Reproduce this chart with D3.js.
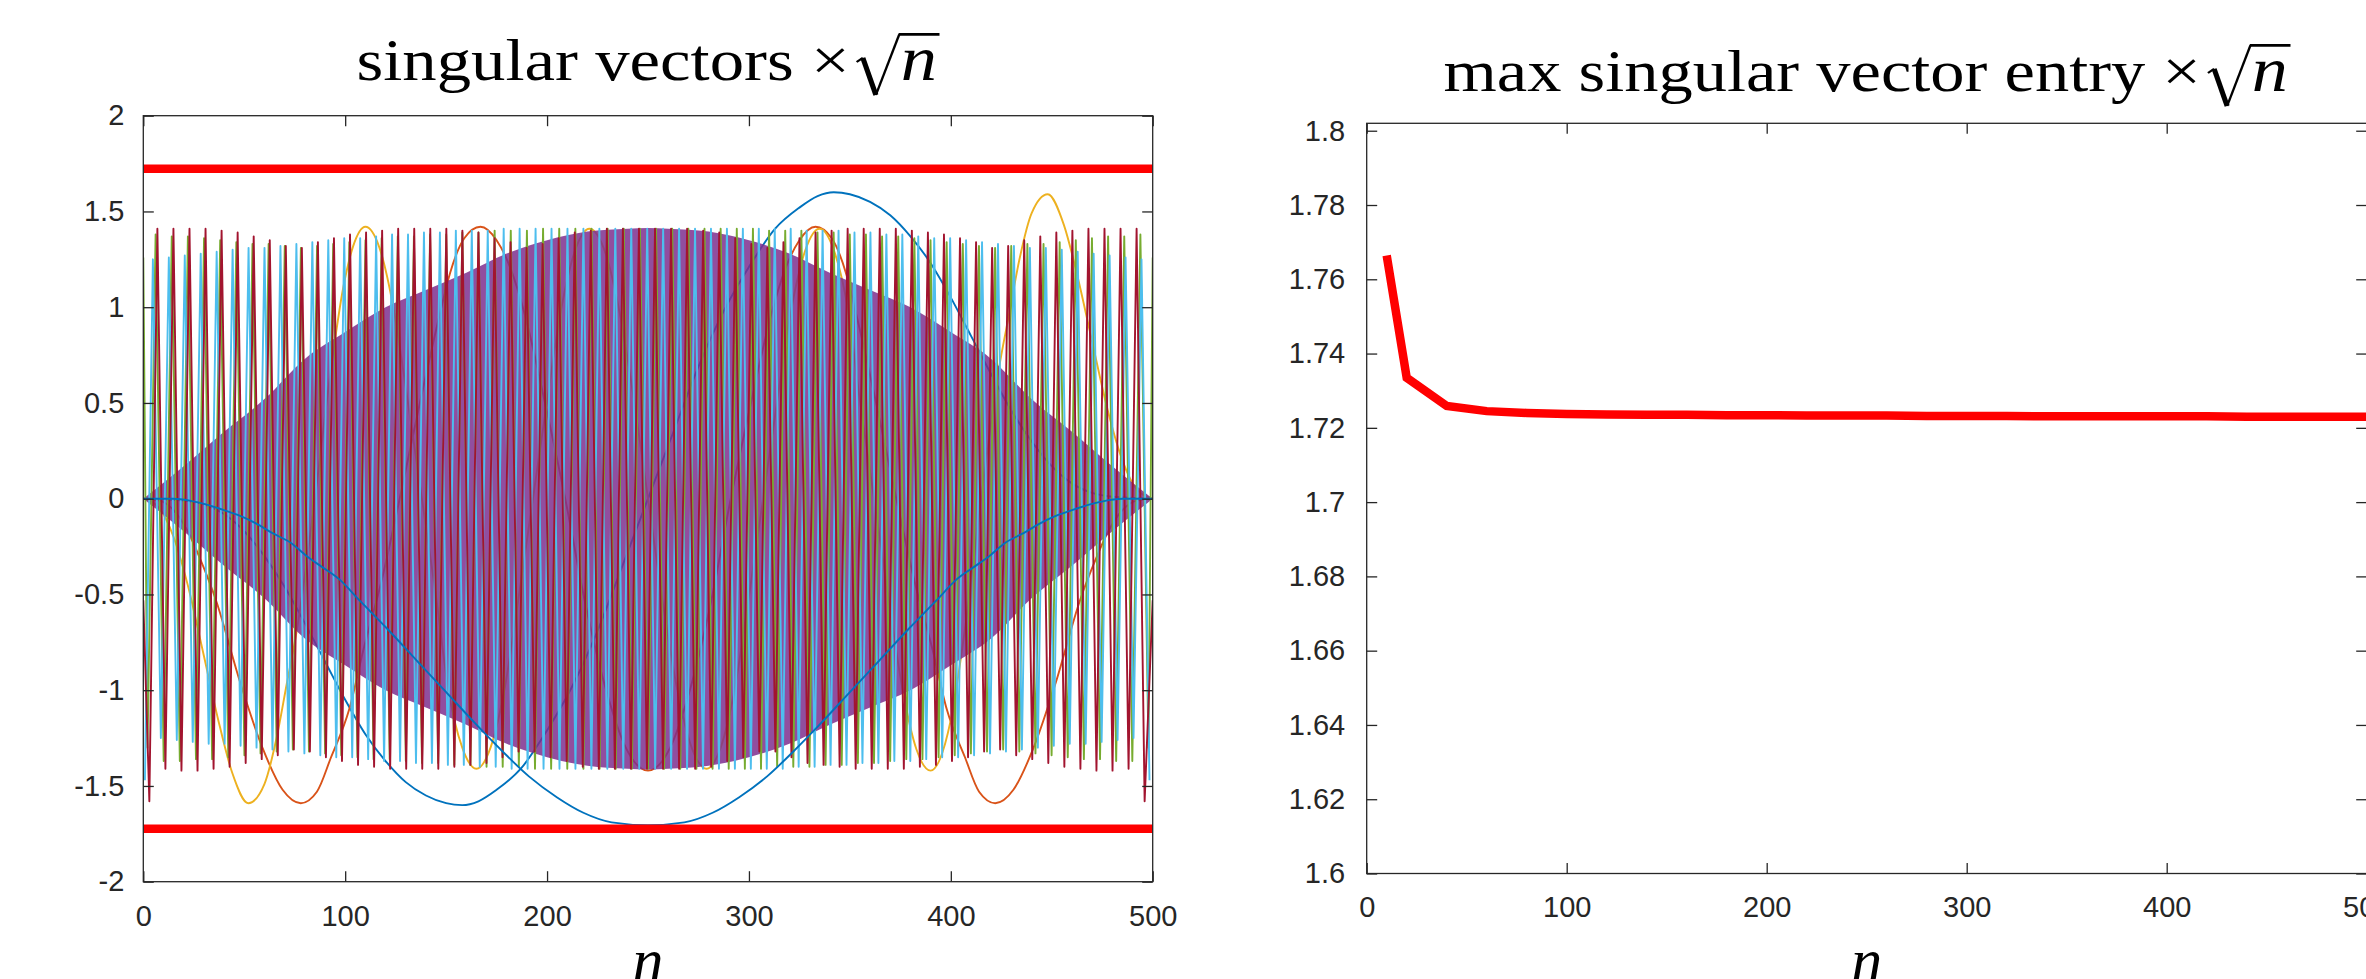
<!DOCTYPE html>
<html>
<head>
<meta charset="utf-8">
<script src="https://cdn.jsdelivr.net/npm/d3@7"></script>
<style>
    body { margin: 0; background: #fff; overflow: hidden; }
    svg { display: block; }
</style>
</head>
<body>
<div id="container"></div>
<script>
// ---------- data ----------
const xTicks = [0, 100, 200, 300, 400, 500];
const xTickLabels = ['0', '100', '200', '300', '400', '500'];
const leftYTicks = [-2, -1.5, -1, -0.5, 0, 0.5, 1, 1.5, 2];
const leftYTickLabels = ['-2', '-1.5', '-1', '-0.5', '0', '0.5', '1', '1.5', '2'];
const rightYTicks = [1.6, 1.62, 1.64, 1.66, 1.68, 1.7, 1.72, 1.74, 1.76, 1.78, 1.8];
const rightYTickLabels = ['1.6', '1.62', '1.64', '1.66', '1.68', '1.7', '1.72', '1.74', '1.76', '1.78', '1.8'];

// red bounds on the left plot
const bound = [1.723, -1.723];

// smooth singular vectors [n, value]
const blueA = [[0,0],[20,-0.01],[30,-0.03],[40,-0.08],[50,-0.17],[60,-0.30],[70,-0.46],[79,-0.63],[90,-0.85],[100,-1.05],
    [110,-1.23],[120,-1.37],[130,-1.48],[140,-1.55],[150,-1.59],[158,-1.60],[166,-1.58],[175,-1.52],[187,-1.41],[200,-1.21],
    [212,-0.99],[225,-0.69],[237,-0.36],[250,0],[263,0.36],[275,0.69],[288,0.99],[300,1.21],[313,1.41],[325,1.52],
    [334,1.58],[342,1.60],[350,1.59],[360,1.55],[370,1.48],[380,1.37],[390,1.23],[400,1.05],[410,0.85],[421,0.63],
    [430,0.46],[440,0.30],[450,0.17],[460,0.08],[470,0.03],[480,0.01],[500,0]];

const orange = [[0,0],[8,-0.01],[15,-0.06],[22,-0.17],[28,-0.31],[36,-0.53],[48,-0.96],[59,-1.30],[69,-1.52],[78,-1.59],
    [86,-1.53],[93,-1.35],[102,-1.10],[109,-0.79],[118,-0.43],[127,0],[137,0.50],[147,0.97],[152,1.18],[159,1.36],
    [167,1.42],[175,1.35],[182,1.20],[189,0.96],[199,0.50],[209,0],[219,-0.55],[229,-0.99],[239,-1.30],[250,-1.42],
    [261,-1.30],[271,-0.99],[281,-0.55],[291,0],[301,0.50],[311,0.96],[318,1.20],[325,1.35],[333,1.42],[341,1.36],
    [348,1.18],[353,0.97],[363,0.50],[373,0],[382,-0.43],[391,-0.79],[398,-1.10],[407,-1.35],[414,-1.53],[422,-1.59],
    [431,-1.52],[441,-1.30],[452,-0.96],[464,-0.53],[472,-0.31],[478,-0.17],[485,-0.06],[492,-0.01],[500,0]];

const yellow = [[0,0],[8,-0.05],[15,-0.20],[22,-0.45],[30,-0.82],[37,-1.15],[44,-1.43],[52,-1.59],[60,-1.49],[66,-1.25],
    [71,-0.97],[76,-0.69],[85,0],[93,0.68],[99,1.10],[104,1.32],[110,1.42],[117,1.31],[124,0.99],[131,0.51],
    [138,0],[145,-0.51],[151,-0.99],[158,-1.30],[165,-1.41],[172,-1.30],[179,-0.99],[186,-0.51],[193,0],[200,0.51],
    [207,0.99],[214,1.30],[221,1.41],[228,1.31],[236,0.97],[243,0.52],[250,0],[257,-0.52],[264,-0.97],[272,-1.31],
    [279,-1.41],[286,-1.30],[293,-0.99],[300,-0.51],[307,0],[314,0.51],[321,0.99],[328,1.30],[335,1.41],[342,1.30],
    [349,0.99],[355,0.51],[362,0],[369,-0.51],[376,-0.99],[383,-1.31],[390,-1.42],[396,-1.32],[401,-1.10],[407,-0.68],
    [415,0],[424,0.69],[429,0.97],[434,1.25],[440,1.49],[448,1.59],[456,1.43],[463,1.15],[470,0.82],[478,0.45],
    [485,0.20],[492,0.05],[500,0]];

const blueB = [[0,0],[15,0],[23,-0.01],[31,-0.03],[40,-0.06],[48,-0.09],[56,-0.13],[64,-0.18],[73,-0.23],[81,-0.30],
    [89,-0.36],[97,-0.42],[107,-0.53],[120,-0.67],[135,-0.84],[150,-1.01],[165,-1.18],[178,-1.32],[191,-1.45],[205,-1.56],
    [218,-1.64],[232,-1.69],[250,-1.705],[268,-1.69],[282,-1.64],[295,-1.56],[309,-1.45],[322,-1.32],[335,-1.18],[350,-1.01],
    [365,-0.84],[380,-0.67],[393,-0.53],[403,-0.42],[411,-0.36],[419,-0.30],[427,-0.23],[436,-0.18],[444,-0.13],[452,-0.09],
    [460,-0.06],[469,-0.03],[477,-0.01],[485,0],[500,0]];

// purple: alternates every sample, drawn as its envelope
const purpleN = [0, 20, 40, 60, 80, 100, 120, 140, 160, 180, 200, 220, 240, 250, 260, 280, 300, 320, 340, 360, 380, 400, 420, 440, 460, 480, 500];
const purpleUpper = [0, 0.17, 0.35, 0.52, 0.73, 0.87, 1.0, 1.09, 1.18, 1.28, 1.35, 1.395, 1.41, 1.414, 1.41, 1.395, 1.35, 1.28, 1.18, 1.09, 1.0, 0.87, 0.73, 0.52, 0.35, 0.17, 0];
const purpleLower = [0, -0.17, -0.35, -0.52, -0.73, -0.87, -1.0, -1.09, -1.18, -1.28, -1.35, -1.395, -1.41, -1.414, -1.41, -1.395, -1.35, -1.28, -1.18, -1.09, -1.0, -0.87, -0.73, -0.52, -0.35, -0.17, 0];

// high frequency vectors: successive turning points, evenly spaced over tipSpan
const greenSpan = [2.1, 497.9];
const greenEnds = [1.26, 1.26];
const greenTips = [
    -1.30, 1.38, -1.37, 1.37, -1.37, 1.37, -1.36, 1.36,
    -1.36, 1.35, -1.35, 1.34, -1.34, 1.33, -1.33, 1.33,
    -1.32, 1.32, -1.31, 1.31, -1.32, 1.32, -1.33, 1.33,
    -1.34, 1.34, -1.35, 1.35, -1.36, 1.36, -1.36, 1.37,
    -1.37, 1.37, -1.38, 1.38, -1.38, 1.38, -1.39, 1.39,
    -1.39, 1.39, -1.40, 1.40, -1.40, 1.40, -1.40, 1.40,
    -1.41, 1.41, -1.41, 1.41, -1.41, 1.41, -1.41, 1.41,
    -1.41, 1.41, -1.41, 1.41, -1.41, 1.41, -1.41,
    1.41, -1.41, 1.41, -1.41, 1.41, -1.41, 1.41, -1.41,
    1.41, -1.41, 1.41, -1.41, 1.41, -1.41, 1.40, -1.40,
    1.40, -1.40, 1.40, -1.40, 1.39, -1.39, 1.39, -1.39,
    1.38, -1.38, 1.38, -1.38, 1.37, -1.37, 1.37, -1.36,
    1.36, -1.36, 1.35, -1.35, 1.34, -1.34, 1.33, -1.33,
    1.32, -1.32, 1.31, -1.31, 1.32, -1.32, 1.33, -1.33,
    1.33, -1.34, 1.34, -1.35, 1.35, -1.36, 1.36, -1.36,
    1.37, -1.37, 1.37, -1.37, 1.38, -1.30];

const lightBlueSpan = [0.8, 498.4];
const lightBlueTips = [
    -1.47, 1.25, -1.25, 1.26, -1.26, 1.27, -1.27, 1.28,
    -1.28, 1.29, -1.28, 1.30, -1.29, 1.31, -1.30, 1.31,
    -1.31, 1.32, -1.32, 1.33, -1.33, 1.34, -1.34, 1.35,
    -1.35, 1.36, -1.35, 1.36, -1.36, 1.37, -1.37, 1.38,
    -1.37, 1.38, -1.38, 1.39, -1.38, 1.39, -1.39, 1.40,
    -1.39, 1.40, -1.40, 1.40, -1.40, 1.41, -1.41, 1.41,
    -1.41, 1.41, -1.41, 1.41, -1.41, 1.41, -1.41, 1.41,
    -1.41, 1.41, -1.41, 1.41, -1.41, 1.41, -1.41, 1.41,
    -1.41, 1.41, -1.41, 1.41, -1.41, 1.41, -1.41, 1.41,
    -1.41, 1.41, -1.41, 1.41, -1.41, 1.41, -1.41, 1.41,
    -1.41, 1.41, -1.40, 1.40, -1.40, 1.40, -1.39, 1.40,
    -1.39, 1.39, -1.38, 1.39, -1.38, 1.38, -1.37, 1.38,
    -1.37, 1.37, -1.36, 1.36, -1.35, 1.36, -1.35, 1.35,
    -1.34, 1.34, -1.33, 1.33, -1.32, 1.32, -1.31, 1.31,
    -1.30, 1.31, -1.29, 1.30, -1.28, 1.29, -1.28, 1.28,
    -1.27, 1.27, -1.26, 1.26, -1.25, 1.25, -1.47];

const darkRedSpan = [3.0, 496.0];
const darkRedEnds = [-0.53, -0.53];
const darkRedTips = [
    -1.58, 1.41, -1.41, 1.41, -1.42, 1.41, -1.42, 1.41,
    -1.41, 1.40, -1.40, 1.39, -1.38, 1.37, -1.36, 1.35,
    -1.34, 1.32, -1.31, 1.31, -1.32, 1.34, -1.35, 1.36,
    -1.37, 1.38, -1.39, 1.39, -1.40, 1.40, -1.41, 1.41,
    -1.41, 1.41, -1.41, 1.41, -1.41, 1.41, -1.40, 1.40,
    -1.39, 1.39, -1.38, 1.36, -1.35, 1.34, -1.32, 1.31,
    -1.32, 1.33, -1.35, 1.36, -1.37, 1.39, -1.40, 1.40,
    -1.41, 1.41, -1.41, 1.41, -1.41, 1.41, -1.41,
    1.41, -1.41, 1.41, -1.41, 1.41, -1.41, 1.40, -1.40,
    1.39, -1.37, 1.36, -1.35, 1.33, -1.32, 1.31, -1.32,
    1.34, -1.35, 1.36, -1.38, 1.39, -1.39, 1.40, -1.40,
    1.41, -1.41, 1.41, -1.41, 1.41, -1.41, 1.41, -1.41,
    1.40, -1.40, 1.39, -1.39, 1.38, -1.37, 1.36, -1.35,
    1.34, -1.32, 1.31, -1.31, 1.32, -1.34, 1.35, -1.36,
    1.37, -1.38, 1.39, -1.40, 1.40, -1.41, 1.41, -1.42,
    1.41, -1.42, 1.41, -1.41, 1.41, -1.58];

// right plot: max singular vector entry x sqrt(n)
const sizes = [10, 20, 40, 60, 80, 100, 120, 140, 160, 180, 200, 220, 240, 260, 280, 300, 320, 340, 360, 380, 400, 420, 440, 460, 480, 500];
const maxEntry = [1.7664, 1.7335, 1.7259, 1.7245, 1.7240, 1.7237, 1.7236, 1.7235, 1.7235, 1.7234, 1.7234, 1.7233, 1.7233,
    1.7233, 1.7232, 1.7232, 1.7232, 1.7231, 1.7231, 1.7231, 1.7231, 1.7231, 1.7230, 1.7230, 1.7230, 1.7230];

// ---------- drawing ----------
const W = 2366;
const H = 979;
const axisColor = '#262626';
const sans = 'Liberation Sans, Arial, Helvetica, sans-serif';
const serif = 'Liberation Serif, Times New Roman, serif';

const svg = d3.select('#container').append('svg')
    .attr('width', W)
    .attr('height', H)
    .style('width', W + 'px')
    .style('height', H + 'px');

const xL = d3.scaleLinear().domain([0, 500]).range([143.3, 1152.7]);
const yL = d3.scaleLinear().domain([-2, 2]).range([881.7, 115.7]);
const xR = d3.scaleLinear().domain([0, 500]).range([1366.7, 2366.7]);
const yR = d3.scaleLinear().domain([1.6, 1.802]).range([873.5, 123.3]);

function styleAxis(g) {
    g.select('.domain').remove();
    g.attr('font-size', 29).attr('font-family', sans);
    g.selectAll('line').attr('stroke', axisColor).attr('stroke-width', 1.3);
    g.selectAll('text').attr('fill', axisColor);
}

function drawAxes(x, y, yTicks, yLabels, yPad) {
    const [x0, x1] = x.range();
    const [yb, yt] = y.range();
    const tick = -10.5;

    svg.append('g').attr('transform', `translate(0,${yb})`)
        .call(d3.axisBottom(x).tickValues(xTicks).tickFormat((d, i) => xTickLabels[i])
            .tickSizeInner(tick).tickSizeOuter(0).tickPadding(23.4))
        .call(styleAxis);
    svg.append('g').attr('transform', `translate(0,${yt})`)
        .call(d3.axisTop(x).tickValues(xTicks).tickFormat(() => '')
            .tickSizeInner(tick).tickSizeOuter(0))
        .call(styleAxis);
    svg.append('g').attr('transform', `translate(${x0},0)`)
        .call(d3.axisLeft(y).tickValues(yTicks).tickFormat((d, i) => yLabels[i])
            .tickSizeInner(tick).tickSizeOuter(0).tickPadding(yPad))
        .call(styleAxis);
    svg.append('g').attr('transform', `translate(${x1},0)`)
        .call(d3.axisRight(y).tickValues(yTicks).tickFormat(() => '')
            .tickSizeInner(tick).tickSizeOuter(0))
        .call(styleAxis);

    svg.append('rect')
        .attr('x', x0).attr('y', yt)
        .attr('width', x1 - x0).attr('height', yb - yt)
        .attr('fill', 'none')
        .attr('stroke', axisColor)
        .attr('stroke-width', 1.3);
}

function clipFor(id, x, y) {
    const [x0, x1] = x.range();
    const [yb, yt] = y.range();
    svg.append('clipPath').attr('id', id)
        .append('rect').attr('x', x0).attr('y', yt).attr('width', x1 - x0).attr('height', yb - yt);
    return svg.append('g').attr('clip-path', `url(#${id})`);
}

function drawTitle(cx, baseline, label, width) {
    const F = 60;
    const g = svg.append('g');
    const main = g.append('text')
        .attr('font-family', serif)
        .attr('font-size', F)
        .attr('fill', '#000')
        .text(label + ' \u00D7');
    const w1 = main.node().getComputedTextLength();
    const r0 = w1 + 0.1 * F;
    g.append('path')
        .attr('d', `M${r0},${-0.3 * F} L${r0 + 0.09 * F},${-0.37 * F}`)
        .attr('stroke', '#000').attr('stroke-width', 0.035 * F).attr('fill', 'none');
    g.append('path')
        .attr('d', `M${r0 + 0.09 * F},${-0.37 * F} L${r0 + 0.28 * F},${0.25 * F}`)
        .attr('stroke', '#000').attr('stroke-width', 0.075 * F).attr('fill', 'none');
    g.append('path')
        .attr('d', `M${r0 + 0.28 * F},${0.25 * F} L${r0 + 0.62 * F},${-0.76 * F}`)
        .attr('stroke', '#000').attr('stroke-width', 0.035 * F).attr('fill', 'none');
    const nx = r0 + 0.64 * F;
    const nt = g.append('text')
        .attr('x', nx)
        .attr('font-family', serif)
        .attr('font-style', 'italic')
        .attr('font-size', F * 1.05)
        .attr('fill', '#000')
        .text('n');
    const end = nx + nt.node().getComputedTextLength() + 0.04 * F;
    g.append('line')
        .attr('x1', r0 + 0.61 * F).attr('x2', end)
        .attr('y1', -0.76 * F).attr('y2', -0.76 * F)
        .attr('stroke', '#000').attr('stroke-width', 0.045 * F);
    g.attr('transform', `translate(${cx - width / 2},${baseline}) scale(${width / end},1)`);
}

function drawXLabel(x) {
    const [x0, x1] = x.range();
    svg.append('text')
        .attr('x', (x0 + x1) / 2)
        .attr('y', 981)
        .attr('text-anchor', 'middle')
        .attr('font-family', serif)
        .attr('font-style', 'italic')
        .attr('font-size', 62)
        .attr('fill', '#000')
        .text('n');
}

function tipPoints(tips, span, ends) {
    const pts = tips.map((v, i) => [span[0] + (span[1] - span[0]) * i / (tips.length - 1), v]);
    if (ends) {
        pts.unshift([0, ends[0]]);
        pts.push([500, ends[1]]);
    }
    return pts;
}

// ---- left: singular vectors ----
const plotL = clipFor('clipL', xL, yL);
const smooth = d3.line().x(d => xL(d[0])).y(d => yL(d[1])).curve(d3.curveMonotoneX);
const zigzag = d3.line().x(d => xL(d[0])).y(d => yL(d[1]));

function thin(path, color) {
    return path.attr('fill', 'none')
        .attr('stroke', color)
        .attr('stroke-width', 1.9)
        .attr('stroke-linejoin', 'round');
}

thin(plotL.append('path').attr('d', smooth(blueA)), '#0072BD');
thin(plotL.append('path').attr('d', smooth(orange)), '#D95319');
thin(plotL.append('path').attr('d', smooth(yellow)), '#EDB120');

plotL.append('path')
    .attr('d', d3.area()
        .x((d, i) => xL(purpleN[i]))
        .y0((d, i) => yL(purpleLower[i]))
        .y1(d => yL(d))
        .curve(d3.curveMonotoneX)(purpleUpper))
    .attr('fill', '#7E2F8E')
    .attr('fill-opacity', 0.85);

thin(plotL.append('path').attr('d', zigzag(tipPoints(greenTips, greenSpan, greenEnds))), '#77AC30');
thin(plotL.append('path').attr('d', zigzag(tipPoints(lightBlueTips, lightBlueSpan))), '#4DBEEE');
thin(plotL.append('path').attr('d', zigzag(tipPoints(darkRedTips, darkRedSpan, darkRedEnds))), '#A2142F');
thin(plotL.append('path').attr('d', smooth(blueB)), '#0072BD');

bound.forEach(b => {
    plotL.append('path')
        .attr('d', zigzag([[0, b], [500, b]]))
        .attr('stroke', '#FF0000')
        .attr('stroke-width', 8.5)
        .attr('fill', 'none');
});

drawAxes(xL, yL, leftYTicks, leftYTickLabels, 19);
drawTitle(648, 80, 'singular vectors', 583);
drawXLabel(xL);

// ---- right: max singular vector entry ----
const plotR = clipFor('clipR', xR, yR);
plotR.append('path')
    .attr('d', d3.line().x((d, i) => xR(sizes[i])).y(d => yR(d))(maxEntry))
    .attr('fill', 'none')
    .attr('stroke', '#FF0000')
    .attr('stroke-width', 8.5)
    .attr('stroke-linejoin', 'miter');

drawAxes(xR, yR, rightYTicks, rightYTickLabels, 21.5);
drawTitle(1867, 91, 'max singular vector entry', 847);
drawXLabel(xR);
</script>
</body>
</html>
